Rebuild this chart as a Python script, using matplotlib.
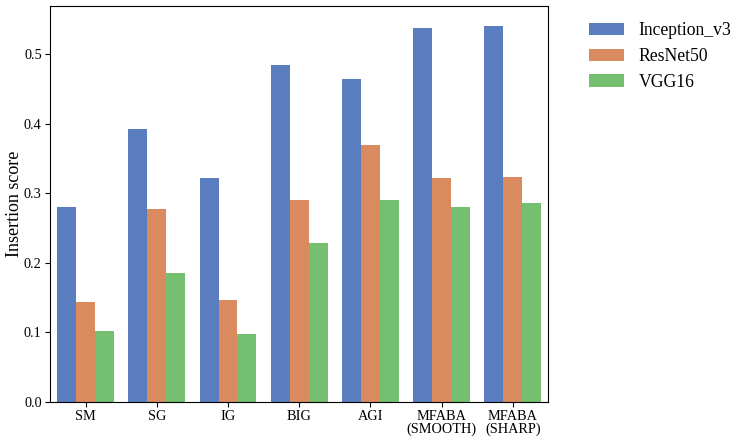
import pandas as pd
import seaborn as sns
import matplotlib
matplotlib.use("Agg")
import matplotlib.pyplot as plt

# Datos
metodos = ['SM', 'SG', 'IG', 'BIG', 'AGI', 'MFABA\n(SMOOTH)', 'MFABA\n(SHARP)']
modelos = ['Inception_v3', 'ResNet50', 'VGG16']
inception_v3 = [0.280, 0.393, 0.322, 0.484, 0.464, 0.537, 0.541]
resnet50 = [0.144, 0.278, 0.147, 0.291, 0.370, 0.322, 0.324]
vgg16 = [0.102, 0.186, 0.098, 0.228, 0.291, 0.281, 0.286]

filas = []
for modelo, valores in zip(modelos, [inception_v3, resnet50, vgg16]):
    for metodo, v in zip(metodos, valores):
        filas.append({'metodo': metodo, 'modelo': modelo, 'score': v})
datos = pd.DataFrame(filas)

plt.rcParams['font.family'] = ['Liberation Serif', 'DejaVu Serif']

fig = plt.figure(figsize=(7.47, 4.43), dpi=100)
ax = fig.add_axes([0.067, 0.0925, 0.667, 0.8935])

sns.barplot(data=datos, x='metodo', y='score', hue='modelo', palette='muted',
            order=metodos, hue_order=modelos, ax=ax, linewidth=0)

ax.set_xlabel('')
ax.set_ylabel('Insertion score', fontsize=13, labelpad=1)
ax.tick_params(axis='both', labelsize=10.3, length=3.5, pad=2.5)
for lbl in ax.get_xticklabels():
    lbl.set_linespacing(0.9)
ax.set_ylim(0, 0.569)
ax.set_xlim(-0.5, len(metodos) - 0.5)
for s in ax.spines.values():
    s.set_visible(True)
    s.set_color('black')

ax.legend(loc='upper left', bbox_to_anchor=(1.05, 1.0), frameon=False,
          fontsize=12.7, borderaxespad=0.5)

fig.savefig('out.png', dpi=100)
